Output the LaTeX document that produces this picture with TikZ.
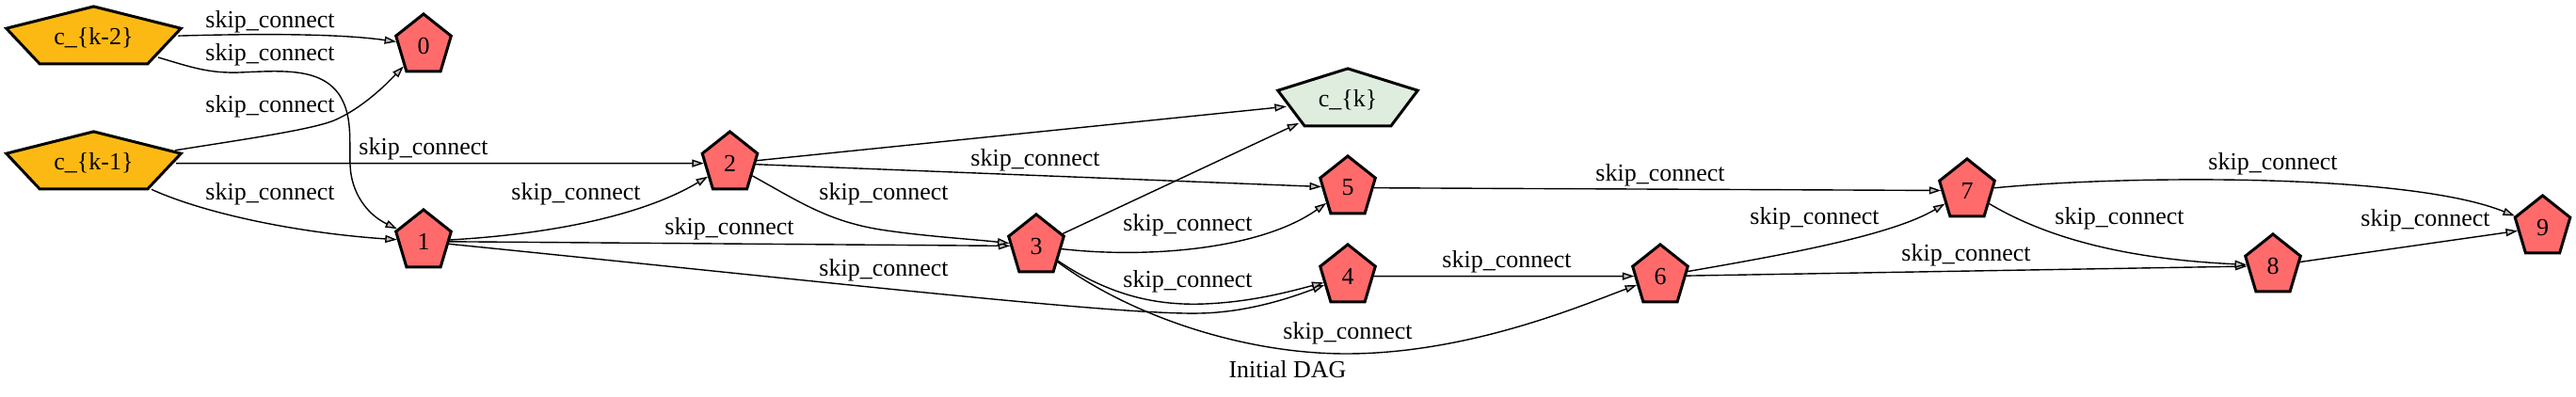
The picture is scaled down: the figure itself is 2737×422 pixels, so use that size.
\documentclass[tikz,border=0pt]{standalone}
\usepackage{graphicx}
\usepackage{fontspec}
\setmainfont{Liberation Serif}
\usetikzlibrary{shapes.geometric,arrows.meta}
\definecolor{nodered}{RGB}{255,107,107}
\definecolor{nodeorange}{RGB}{253,185,19}
\definecolor{nodegreen}{RGB}{222,237,222}
\definecolor{arrowgray}{RGB}{192,192,192}
\begin{document}
\begin{tikzpicture}[x=1pt,y=-1pt,
  every node/.style={font=\fontsize{26}{30}\selectfont},
  pent/.style={regular polygon, regular polygon sides=5, minimum size=67.4pt,
    inner sep=0pt, draw=black, line width=3pt, transform shape},
  rednode/.style={pent, fill=nodered, xscale=0.914},
  orangenode/.style={pent, fill=nodeorange, xscale=2.895},
  greennode/.style={pent, fill=nodegreen, xscale=2.318},
  edge/.style={line width=1.4pt, draw=black,
    -{Triangle[length=12.5pt,width=8pt,fill=arrowgray]}},
  lbl/.style={inner sep=0pt}
]
\useasboundingbox (0,0) rectangle (2737,422);

% nodes
\node[orangenode] (k2) at (99.5,40.6) {\scalebox{0.3454}[1]{c\_\{k-2\}}};
\node[orangenode] (k1) at (99.5,173.6) {\scalebox{0.3454}[1]{c\_\{k-1\}}};
\node[rednode] (n0) at (450,48.6) {\scalebox{1.094}[1]{0}};
\node[rednode] (n1) at (450,256.6) {\scalebox{1.094}[1]{1}};
\node[rednode] (n2) at (775.5,173.6) {\scalebox{1.094}[1]{2}};
\node[rednode] (n3) at (1101,261.6) {\scalebox{1.094}[1]{3}};
\node[greennode] (ck) at (1432,106.6) {\scalebox{0.4314}[1]{c\_\{k\}}};
\node[rednode] (n5) at (1432,199.6) {\scalebox{1.094}[1]{5}};
\node[rednode] (n4) at (1432,293.6) {\scalebox{1.094}[1]{4}};
\node[rednode] (n6) at (1764,293.6) {\scalebox{1.094}[1]{6}};
\node[rednode] (n7) at (2090,202.6) {\scalebox{1.094}[1]{7}};
\node[rednode] (n8) at (2415,282.6) {\scalebox{1.094}[1]{8}};
\node[rednode] (n9) at (2701.5,241.6) {\scalebox{1.094}[1]{9}};

% edges
\draw[edge] (k2) .. controls (300,35) and (370,37) .. (n0);
\draw[edge] (k2) .. controls (205,72) and (222,78) .. (255,77)
  .. controls (300,75) and (340,72) .. (360,100)
  .. controls (375,122) and (371,150) .. (372,175)
  .. controls (373,205) and (390,228) .. (n1);
\draw[edge] (k1) .. controls (260,148) and (330,138) .. (355,128)
  .. controls (385,115) and (410,90) .. (n0);
\draw[edge] (k1) -- (n2);
\draw[edge] (k1) .. controls (220,228) and (320,248) .. (n1);
\draw[edge] (n1) .. controls (600,248) and (690,225) .. (n2);
\draw[edge] (n1) -- (n3);
\draw[edge] (n1) .. controls (900,302) and (1190,335) .. (1275,333)
  .. controls (1325,332) and (1370,317) .. (n4);
\draw[edge] (n2) -- (ck);
\draw[edge] (n2) -- (n5);
\draw[edge] (n2) .. controls (850,215) and (880,235) .. (935,244)
  .. controls (980,251) and (1030,254) .. (n3);
\draw[edge] (n3) -- (ck);
\draw[edge] (n3) .. controls (1220,275) and (1340,265) .. (n5);
\draw[edge] (n3) .. controls (1180,315) and (1230,325) .. (1280,323)
  .. controls (1330,321) and (1370,310) .. (n4);
\draw[edge] (n3) .. controls (1200,335) and (1320,376) .. (1430,376)
  .. controls (1560,376) and (1680,325) .. (n6);
\draw[edge] (n4) -- (n6);
\draw[edge] (n5) -- (n7);
\draw[edge] (n6) .. controls (1900,270) and (2010,250) .. (n7);
\draw[edge] (n6) -- (n8);
\draw[edge] (n7) .. controls (2260,186) and (2560,184) .. (n9);
\draw[edge] (n7) .. controls (2170,250) and (2250,275) .. (n8);
\draw[edge] (n8) -- (n9);

% edge labels
\node[lbl] (l1) at (287,23) {skip\_connect};
\node[lbl] (l2) at (287,58) {skip\_connect};
\node[lbl] (l3) at (287,113) {skip\_connect};
\node[lbl] (l4) at (450,158) {skip\_connect};
\node[lbl] (l5) at (287,206) {skip\_connect};
\node[lbl] (l6) at (612,206) {skip\_connect};
\node[lbl] (l7) at (775,243) {skip\_connect};
\node[lbl] (l8) at (939,287) {skip\_connect};
\node[lbl] (l10) at (1100,170) {skip\_connect};
\node[lbl] (l11) at (939,206) {skip\_connect};
\node[lbl] (l13) at (1262,239) {skip\_connect};
\node[lbl] (l14) at (1262,299) {skip\_connect};
\node[lbl] (l15) at (1432,354) {skip\_connect};
\node[lbl] (l16) at (1601,278) {skip\_connect};
\node[lbl] (l17) at (1764,186) {skip\_connect};
\node[lbl] (l18) at (1928,232) {skip\_connect};
\node[lbl] (l19) at (2089,271) {skip\_connect};
\node[lbl] (l20) at (2415,174) {skip\_connect};
\node[lbl] (l21) at (2252,232) {skip\_connect};
\node[lbl] (l22) at (2577,234) {skip\_connect};

\node[lbl] (title) at (1368,393) {Initial DAG};
\end{tikzpicture}
\end{document}
